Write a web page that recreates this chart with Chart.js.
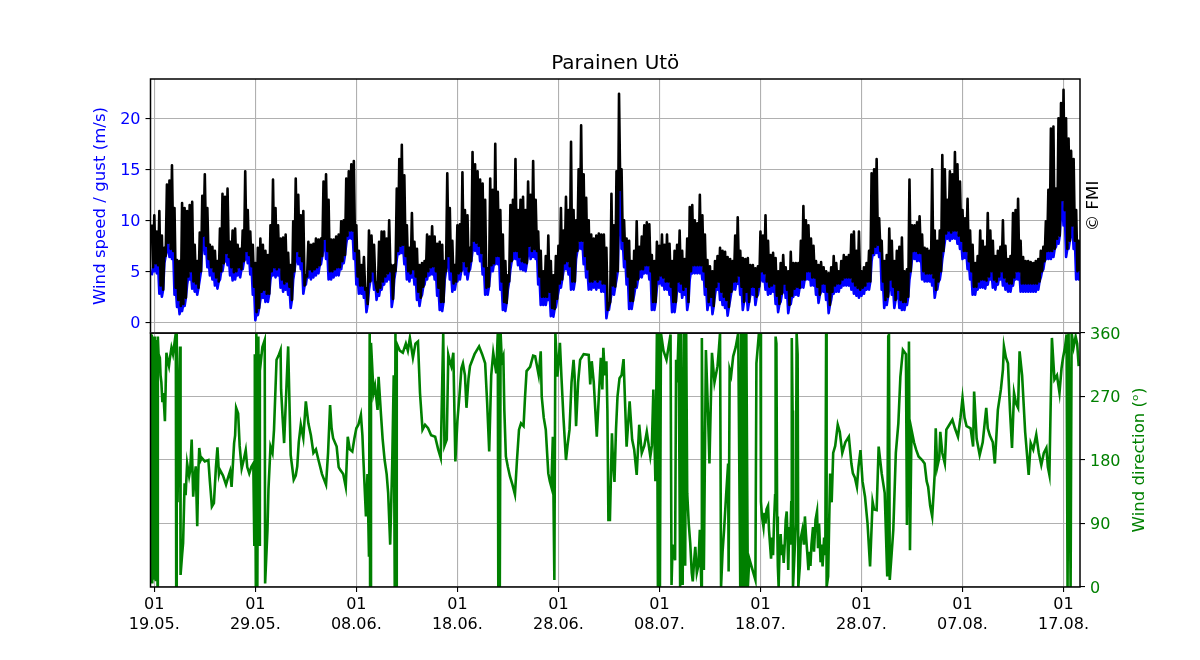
<!DOCTYPE html>
<html><head><meta charset="utf-8">
<script src="https://cdn.jsdelivr.net/npm/chart.js@4"></script>
<style>
html,body{margin:0;padding:0;background:#fff;width:1200px;height:660px;overflow:hidden}
canvas{position:absolute;left:0;top:0}
</style></head><body>
<canvas id="top" width="1200" height="660"></canvas>
<canvas id="bottom" width="1200" height="660"></canvas>
<script>
const chartTitle="Parainen Utö";
const windLabel="Wind speed / gust (m/s)";
const dirLabel="Wind direction (ᵒ)";
const creditLabel="© FMI";
const tickDays=[0,10,20,30,40,50,60,70,80,90];
const tickHours=["01","01","01","01","01","01","01","01","01","01"];
const tickDates=["19.05.","29.05.","08.06.","18.06.","28.06.","08.07.","18.07.","28.07.","07.08.","17.08."];
const windTicks=[0,5,10,15,20];
const dirTicks=[0,90,180,270,360];
const sampleStart=-0.25, sampleStep=0.25;
const gustPeaks=[9.6,10.5,8.9,10.9,8.5,7.3,13.5,13.9,15.4,11.2,6.1,6,11.7,11.2,10.9,11.5,11.8,7.6,6,8.8,12.4,14.5,11.2,7.6,7.4,7,6,9.2,12.6,12.3,13.1,7.9,9,9.2,7.6,7.2,9,14.8,11,8.9,7.6,5.8,7.3,8.2,7.6,7,6.6,9.5,14,11.2,9.5,8.2,8.3,8.6,6.8,5.6,9.9,14.1,12.5,10.5,10.9,4.6,7.9,7.6,7.7,8.2,8.1,8.2,13.8,14.5,12,8.1,8.1,8.4,8.6,9.9,10,14.1,14.8,15.5,15.8,9.5,7,5.6,6.4,3.3,9,8.5,7.6,3.3,7.9,8.9,8.9,8.2,10,5.6,5.6,13.1,16,17.4,14.4,9.5,7.3,10.7,7.9,7.2,5.6,5.8,6,8.6,8.4,9.4,8.4,7.7,7.9,7.6,6,14.6,11.2,8,5.6,9.5,9.6,14.7,11,10.5,7.3,16.7,15.5,14.8,14,13.6,12,5.3,14.1,13,17.5,12.8,11,8.6,6,4.6,11.5,12,16,11,12,12.3,11,13.8,12.5,15.8,12,8.9,7,5,6.5,8.5,6,4.6,6.5,7.5,11.2,9,12.3,11,17.7,11,10,15,19.3,14.5,12.2,10,8.6,8.2,8.5,8.7,8.6,8.6,7.3,1.7,12.6,9.5,14.8,22.4,15,10,8.2,8,6,7,9.9,7.4,8.4,9.5,9.8,9.6,6.6,6,7.9,7.5,8.6,7.6,8.6,7.7,6,7,7.6,9,7,6.2,8.2,11.3,11.5,10,9.7,12.5,10.5,8.6,6.1,5.5,5,6,6.5,7.3,7,6.9,6.4,6.2,6,8.5,10.3,7,6.3,6.2,6.3,5.6,5.6,5.3,5.5,8.9,8.5,10.5,8,6.6,6.8,6.3,5,5.8,6.6,5.4,5,6.9,5.8,5.8,5.8,8,11.4,10,9.5,8.2,7.5,6,5.6,5.9,5.4,5,4.8,5.4,6.5,5.8,5,6,6.6,6.4,6.6,8.6,8.9,7,8.9,5,5.4,5.8,7,14.6,15,16,10.2,8,6,6.6,9.2,8,6,7,7.4,8.3,5,5.2,14,9.5,9.5,9.8,10.4,8.6,7.3,7.2,7,15,9,8,9,16.4,15,12,14.8,14.5,16.7,15.5,13.8,11,10.2,12.1,9,7.6,5.8,6.5,9,8,7.4,10.7,9,8,6.5,7,7.4,10,7.5,6.2,6.5,10.7,11,12.1,8,6.4,6,6,5.9,5.8,6,6.2,7,7.4,9.9,13,19,19.2,13.1,20,21.5,22.8,20,18,16.8,16,11,8];
const gustTroughs=[5.4,5.8,5.6,3.6,3.2,6.5,7.8,7.2,7,3.4,2.2,1.6,1.8,2.4,4.5,5,4,3.8,3.4,5,8.5,7.5,6.2,5.4,5,4.4,4,5,5.8,6.8,6.4,5.4,4.9,5,5.4,5.2,6,7,6.6,5.5,3.5,1,1.4,3,3.2,2.8,2.8,5,5.4,5.2,5.4,4.2,3.8,4,3.5,2.2,5,7,6.5,6,3.6,4.5,5.2,5,5.2,5.4,5.6,6.5,8.2,7,5,5,5.2,5.4,5.4,6,6.6,8.5,9,9,7,4.5,3.6,3.6,3.2,1.8,4,5,4,3,3.4,4,4.5,4.8,5,2.3,5,7,7.5,7.6,6.5,5,4.8,5.2,4.5,3,2.4,3.5,4.5,5,5.4,5.5,5,3.4,2,2,5,6.5,5,3.8,4,4.8,5,6,5.5,5,6,8,7.8,7.5,6.8,5.5,3.4,3.5,5.6,5.8,6.5,6.5,4,2,1.9,4,6,7,7,6.4,6,5.9,5.8,7.5,7,7.2,7,4.5,2.5,2.5,2.5,3,1.4,1.3,2.3,3.8,4.2,5.8,6,5.5,4,4,7,8,8,6.5,5.2,4,4,4.2,4,4.2,3.8,3.8,1.2,2,3.6,3.5,5,13,8,6.2,4.5,2.1,2.1,3.5,4.2,5.2,5.2,5.6,5.6,5,2,2,4.2,4.6,4.4,4,4,3.5,2,2,4,3.8,3.2,3.5,2,5,5.6,5.6,5.6,5.6,5,3.5,2,2.5,1.6,3.5,4,3,2.5,2.2,1.5,3,4,4,4.6,3.5,2,3,2,3.5,3.5,2.5,3.5,5,4.8,4,3.5,3.6,3.8,2.6,1.8,2.8,3.8,3.2,1.7,2.6,3.3,3.5,3.4,4.2,4.2,5,5,4.4,4.4,3.5,2.7,3.8,3.8,3,1.7,3,3.6,3.8,3.8,4.2,4.4,4.4,4.4,4,3.6,3.4,3.2,3.4,3.6,4,4,6.8,7.4,7.6,7,4,2.2,2.5,4.2,3.5,2.2,3.2,2.2,2,2,2.5,5,7,7,6.8,6.8,5,4.8,4.8,4.8,4.4,3.2,4,5,7,8.7,9,8.8,9,9,8.5,8,7,7,6,5,3.5,3.5,4,4.2,4.2,4.1,4.5,5,4.2,4,4.5,5,4.4,4,3.8,3.8,4.4,5,5,3.8,3.8,3.8,3.8,3.8,3.8,3.8,4,5,6,7,7,7,7.2,8.2,8.5,12,11,7.2,8,9.5,8,5,5];
const windLows=[4.6,5,4.8,2.8,2.5,5.8,7,6.4,6.2,2.7,1.5,.8,1.1,1.6,3.7,4.2,3.3,3,2.7,4.2,7.7,6.7,5.4,4.6,4.2,3.6,3.3,4.2,5,6,5.6,4.6,4.1,4.2,4.6,4.4,5.2,6.2,5.8,4.7,2.7,.2,.7,2.2,2.4,2,2,4.2,4.6,4.4,4.6,3.4,3,3.2,2.7,1.4,4.2,6.2,5.7,5.2,2.8,3.7,4.4,4.2,4.4,4.6,4.8,5.7,7.4,6.2,4.2,4.2,4.4,4.6,4.6,5.2,5.8,7.7,8.2,8.2,6.2,3.7,2.8,2.8,2.4,1,3.2,4.2,3.2,2.2,2.6,3.2,3.7,4,4.2,1.5,4.2,6.2,6.7,6.8,5.7,4.2,4,4.4,3.7,2.2,1.6,2.7,3.7,4.2,4.6,4.7,4.2,2.6,1.2,1.1,4.2,5.7,4.2,3,3.2,4,4.2,5.2,4.7,4.2,5.2,7,7,6.7,6,4.7,2.7,2.7,4.8,5,5.7,5.7,3.2,1.2,1.1,3.2,5.2,6.2,6.2,5.6,5.2,5.1,5,6.7,6.2,6.4,6.2,3.7,1.7,1.7,1.7,2.2,.6,.55,1.5,3,3.4,5,5.2,4.7,3.2,3.2,6.2,7.2,7.2,5.7,4.4,3.2,3.2,3.4,3.2,3.4,3,3,.4,1.2,2.8,2.7,4.2,10,7.2,5.4,3.7,1.3,1.3,2.7,3.4,4.4,4.4,4.8,4.8,4.2,1.2,1.2,3.4,3.8,3.6,3.2,3.2,2.7,1,1,3.2,3,2.4,2.7,1.2,4.2,4.8,4.8,4.8,4.8,4.2,2.7,1.2,1.7,.8,2.7,3.2,2.2,1.7,1.4,.65,2.2,3.2,3.2,3.8,2.7,1.2,2.2,1.2,2.7,2.7,1.7,2.7,4.2,4,3.2,2.7,2.8,3,1.8,1,2,3,2.4,.9,1.8,2.5,2.7,2.6,3.4,3.4,4.2,4.2,3.6,3.6,2.7,1.9,3,3,2.2,.9,2.2,2.8,3,3,3.4,3.6,3.6,3.6,3.2,2.8,2.6,2.4,2.6,2.8,3.2,3.2,6,6.6,6.8,6.4,3.2,1.4,1.7,3.4,2.7,1.4,2.4,1.4,1.2,1.2,1.7,4.2,6.2,6.2,6,6,4.2,4,4,4,3.6,2.4,3.2,4.2,6.2,7.9,8.2,8,8.2,8.2,7.7,7.2,6.2,6.3,5.2,4.2,2.7,2.7,3.2,3.4,3.4,3.3,3.7,4.2,3.4,3.2,3.7,4.2,3.6,3.2,3,3,3.6,4.2,4.2,3,3,3,3,3,3,3,3.2,4.4,5.2,6.2,6.2,6.2,6.4,7.4,7.7,10.7,9.5,6.4,7.2,8.7,7.2,4.2,4.2];
const dirSamples=[[-.37,360],[-.3,20],[-.25,358],[-.2,5],[-.1,355],[0,12],[.05,355],[.15,8],[.25,350],[.32,0],[.35,355],[.42,330],[.55,325],[.62,300],[.7,290],[.8,262],[.9,275],[1.05,235],[1.2,332],[1.3,322],[1.45,313],[1.55,325],[1.7,339],[1.85,330],[2,346],[2.13,360],[2.17,0],[2.22,360],[2.3,120],[2.45,280],[2.55,341],[2.6,17],[2.75,45],[2.85,62],[3,147],[3.1,130],[3.25,175],[3.45,157],[3.55,165],[3.7,209],[3.85,128],[3.95,150],[4.1,171],[4.25,86],[4.35,160],[4.45,197],[4.6,180],[4.7,183],[5,178],[5.35,180],[5.5,150],[5.7,114],[5.9,119],[6.1,170],[6.25,198],[6.4,160],[6.5,166],[6.8,158],[7.1,145],[7.3,155],[7.5,164],[7.65,142],[7.9,204],[8,215],[8.1,254],[8.3,246],[8.45,200],[8.65,168],[8.85,180],[9.05,194],[9.2,170],[9.4,161],[9.6,170],[9.8,175],[9.9,60],[9.95,330],[10,150],[10.05,0],[10.1,360],[10.2,0],[10.3,355],[10.4,60],[10.45,330],[10.55,320],[10.7,340],[10.93,350],[10.97,5],[11.05,5],[11.2,80],[11.3,138],[11.5,199],[11.7,190],[11.85,223],[12.1,322],[12.3,328],[12.5,336],[12.55,280],[12.7,240],[12.85,204],[13.1,290],[13.25,341],[13.5,187],[13.65,170],[13.8,152],[14,158],[14.15,171],[14.3,205],[14.5,230],[14.75,211],[15,263],[15.25,232],[15.5,215],[15.75,190],[16,195],[16.25,180],[16.6,160],[17,145],[17.2,190],[17.4,258],[17.55,225],[17.7,211],[18.05,199],[18.25,170],[18.4,166],[18.7,160],[18.95,142],[19.15,213],[19.35,195],[19.6,192],[19.8,210],[20,225],[20.2,230],[20.45,244],[20.6,215],[20.7,180],[20.95,100],[21.1,160],[21.25,43],[21.32,360],[21.36,0],[21.45,346],[21.7,275],[21.85,285],[22.1,251],[22.2,298],[22.45,242],[22.6,210],[22.8,180],[23,160],[23.15,133],[23.35,60],[23.55,175],[23.7,300],[23.8,0],[23.87,360],[23.93,0],[24,345],[24.3,335],[24.6,332],[24.9,345],[25.1,335],[25.3,353],[25.6,325],[25.85,345],[26.1,348],[26.3,275],[26.55,223],[26.8,230],[27.1,225],[27.4,215],[27.8,213],[28.1,195],[28.35,183],[28.5,290],[28.6,360],[28.72,200],[28.95,209],[29.1,329],[29.25,320],[29.4,313],[29.6,332],[29.8,178],[30,235],[30.2,270],[30.4,310],[30.55,317],[30.75,300],[30.9,254],[31.1,295],[31.25,313],[31.7,330],[32.15,341],[32.45,330],[32.75,317],[32.95,260],[33.15,192],[33.35,300],[33.55,332],[33.85,303],[34,360],[34.05,0],[34.12,360],[34.2,0],[34.28,360],[34.4,320],[34.55,327],[34.65,250],[34.8,185],[35,170],[35.2,157],[35.45,145],[35.7,131],[35.9,180],[36.1,223],[36.3,232],[36.55,228],[36.7,270],[36.85,306],[37.2,312],[37.5,328],[37.7,327],[38.05,300],[38.25,334],[38.35,270],[38.55,240],[38.75,223],[39,161],[39.15,150],[39.3,142],[39.45,213],[39.6,10],[39.7,360],[39.9,298],[40.15,346],[40.3,298],[40.5,240],[40.75,180],[40.9,200],[41.1,223],[41.3,290],[41.5,322],[41.6,300],[41.75,228],[41.95,290],[42.15,322],[42.5,330],[43,329],[43.15,287],[43.3,320],[43.5,290],[43.8,213],[44,270],[44.2,325],[44.35,280],[44.45,339],[44.6,300],[44.75,320],[44.85,250],[44.95,95],[45.1,95],[45.3,218],[45.4,180],[45.55,149],[45.7,223],[45.85,270],[46.05,296],[46.25,300],[46.45,323],[46.6,260],[46.75,199],[47.05,263],[47.3,209],[47.5,195],[47.75,159],[48,230],[48.25,190],[48.5,200],[48.75,220],[48.9,205],[49.1,185],[49.25,200],[49.4,280],[49.6,150],[49.75,360],[49.85,0],[49.95,360],[50.05,0],[50.15,360],[50.4,335],[50.7,322],[50.9,340],[51.1,358],[51.2,3],[51.3,60],[51.55,38],[51.65,322],[51.75,290],[51.9,360],[52.05,0],[52.15,360],[52.3,3],[52.45,360],[52.55,30],[52.65,360],[52.75,133],[52.9,90],[53.05,62],[53.2,20],[53.3,8],[53.45,40],[53.55,57],[53.7,20],[53.85,30],[54,81],[54.15,0],[54.2,353],[54.3,150],[54.4,24],[54.6,336],[54.8,250],[54.95,175],[55.2,332],[55.45,290],[55.75,313],[55.9,340],[56,360],[56.1,0],[56.25,50],[56.4,81],[56.6,130],[56.8,175],[56.85,22],[56.95,308],[57.1,300],[57.3,327],[57.55,340],[57.8,360],[58,0],[58.1,360],[58.25,0],[58.35,360],[58.5,0],[58.6,360],[58.75,0],[58.9,40],[59.2,25],[59.5,10],[59.6,317],[59.85,360],[60,360],[60.05,121],[60.15,100],[60.3,85],[60.4,105],[60.5,90],[60.6,110],[60.75,115],[60.85,80],[60.95,60],[61.05,40],[61.15,70],[61.25,45],[61.35,95],[61.45,130],[61.5,355],[61.58,345],[61.65,100],[61.72,30],[61.8,0],[61.9,55],[62,75],[62.1,45],[62.2,60],[62.3,34],[62.4,60],[62.5,95],[62.6,107],[62.68,70],[62.75,24],[62.85,85],[62.95,60],[63.05,120],[63.1,353],[63.18,250],[63.22,0],[63.35,40],[63.5,90],[63.58,360],[63.68,330],[63.75,0],[63.9,30],[64,70],[64.15,81],[64.3,60],[64.4,100],[64.5,75],[64.65,45],[64.75,24],[64.85,50],[64.95,30],[65.05,60],[65.2,85],[65.3,50],[65.45,95],[65.6,107],[65.7,55],[65.8,90],[65.95,35],[66.05,60],[66.15,29],[66.3,70],[66.42,45],[66.5,360],[66.55,0],[66.7,15],[66.8,90],[66.9,161],[67.05,120],[67.2,190],[67.4,200],[67.65,230],[67.85,220],[68.1,190],[68.4,205],[68.75,213],[69,175],[69.15,161],[69.35,155],[69.55,142],[69.7,170],[69.9,194],[70.1,150],[70.35,128],[70.6,90],[70.85,29],[71.1,121],[71.25,110],[71.5,109],[71.7,199],[72,161],[72.3,133],[72.55,15],[72.65,355],[72.72,360],[72.8,10],[73,50],[73.15,81],[73.4,190],[73.65,232],[73.85,298],[74.1,336],[74.4,330],[74.5,88],[74.7,348],[74.8,52],[74.95,223],[75.2,205],[75.4,195],[75.65,185],[76,180],[76.25,175],[76.45,150],[76.6,142],[76.8,115],[77,100],[77.15,135],[77.25,161],[77.35,225],[77.5,170],[77.7,183],[77.8,220],[78,190],[78.25,175],[78.4,223],[78.7,230],[79,237],[79.25,225],[79.55,213],[79.8,240],[80,268],[80.2,240],[80.4,228],[80.8,225],[81.05,199],[81.15,277],[81.4,210],[81.7,187],[82,205],[82.35,254],[82.5,225],[82.7,215],[83,205],[83.2,175],[83.5,251],[83.8,280],[84,308],[84.1,341],[84.3,325],[84.5,317],[84.7,250],[84.9,197],[85.1,275],[85.3,260],[85.5,254],[85.65,334],[85.9,300],[86.2,220],[86.55,159],[86.75,204],[87,195],[87.3,216],[87.55,190],[87.8,173],[88.05,190],[88.3,197],[88.45,170],[88.6,159],[88.85,353],[89.1,294],[89.35,300],[89.6,275],[89.8,310],[89.95,325],[90.15,340],[90.3,358],[90.4,0],[90.5,360],[90.7,0],[90.8,360],[91,340],[91.2,355],[91.35,345],[91.5,313]];

const gust=gustPeaks.flatMap((v,i)=>[v,gustTroughs[i]]);
const wind=windLows.flatMap((v,i)=>[v,gustTroughs[i]]);
const sampleSeries=(values,step)=>values.map((v,i)=>({x:sampleStart+i*step,y:v}));
const frame={id:'frame',afterDraw(c){const a=c.chartArea,g=c.ctx;g.save();g.strokeStyle='#000';g.lineWidth=1.5;g.strokeRect(a.left,a.top,a.right-a.left,a.bottom-a.top);g.restore();}};
const FONT="DejaVu Sans";
const GRID='#b0b0b0';
const xDays={min:-0.376,max:91.63};
const sideText=(id,text,color,cx,cy)=>({id,afterDraw(c){const g=c.ctx;g.save();g.translate(cx,cy);g.rotate(-Math.PI/2);g.textAlign='center';g.textBaseline='middle';g.fillStyle=color;g.font='16.6px "'+FONT+'"';g.fillText(text,0,0);g.restore();}});

new Chart(document.getElementById('top'),{
 type:'line',
 data:{datasets:[
  {label:'Gust',data:sampleSeries(gust,sampleStep/2),borderColor:'#000',borderWidth:2.6,borderJoinStyle:'round',pointRadius:0,tension:0,order:1},
  {label:'Wind',data:sampleSeries(wind,sampleStep/2),borderColor:'#0000ff',borderWidth:2.6,borderJoinStyle:'round',pointRadius:0,tension:0,order:2}
 ]},
 options:{responsive:false,animation:false,devicePixelRatio:1,
  layout:{padding:{left:91,right:120,top:52,bottom:327}},
  plugins:{legend:{display:false},tooltip:{enabled:false},
   title:{display:true,text:chartTitle,color:'#000',fullSize:false,font:{family:FONT,size:20,weight:'normal',lineHeight:1.2},padding:{top:0,bottom:3}}},
  scales:{
   x:{type:'linear',...xDays,
    afterBuildTicks(s){s.ticks=tickDays.map(v=>({value:v}));},
    afterFit(s){s.height=0;},
    ticks:{display:false},
    grid:{color:GRID,lineWidth:1.1,drawTicks:false},border:{display:false}},
   y:{type:'linear',min:-1.05,max:23.85,
    afterBuildTicks(s){s.ticks=windTicks.map(v=>({value:v}));},
    afterFit(s){s.width=59.5;},
    ticks:{color:'#0000ff',font:{family:FONT,size:16},padding:5,autoSkip:false,labelOffset:1.5},
    grid:{color:GRID,lineWidth:1.1,tickColor:'#000',tickLength:5},border:{display:false},
    title:{display:true,text:windLabel,color:'#0000ff',font:{family:FONT,size:16.6},padding:0}}
  }},
 plugins:[frame,sideText('credit',creditLabel,'#000',1094,206)]});

new Chart(document.getElementById('bottom'),{
 type:'line',
 data:{datasets:[
  {label:'Direction',data:dirSamples.map(([d,v])=>({x:d,y:v})),borderColor:'#008000',borderWidth:2.6,pointRadius:0,tension:0}
 ]},
 options:{responsive:false,animation:false,devicePixelRatio:1,
  layout:{padding:{left:150.5,right:42,top:333,bottom:0}},
  plugins:{legend:{display:false},tooltip:{enabled:false},title:{display:false}},
  scales:{
   x:{type:'linear',...xDays,
    afterBuildTicks(s){s.ticks=tickDays.map(v=>({value:v}));},
    afterFit(s){s.height=73;},
    ticks:{color:'#000',font:{family:FONT,size:16,lineHeight:1.3},padding:2,maxRotation:0,autoSkip:false,
     callback(v){const i=tickDays.indexOf(v);return i<0?'':[tickHours[i],tickDates[i]];}},
    grid:{color:GRID,lineWidth:1.1,tickColor:'#000',tickLength:5},border:{display:false}},
   y:{type:'linear',position:'right',min:0,max:360,
    afterBuildTicks(s){s.ticks=dirTicks.map(v=>({value:v}));},
    afterFit(s){s.width=78;},
    ticks:{color:'#008000',font:{family:FONT,size:16},padding:5,autoSkip:false,labelOffset:1.5},
    grid:{color:GRID,lineWidth:1.1,tickColor:'#000',tickLength:5},border:{display:false}}
  }},
 plugins:[frame,sideText('dirTitle',dirLabel,'#008000',1140,460)]});
</script></body></html>
